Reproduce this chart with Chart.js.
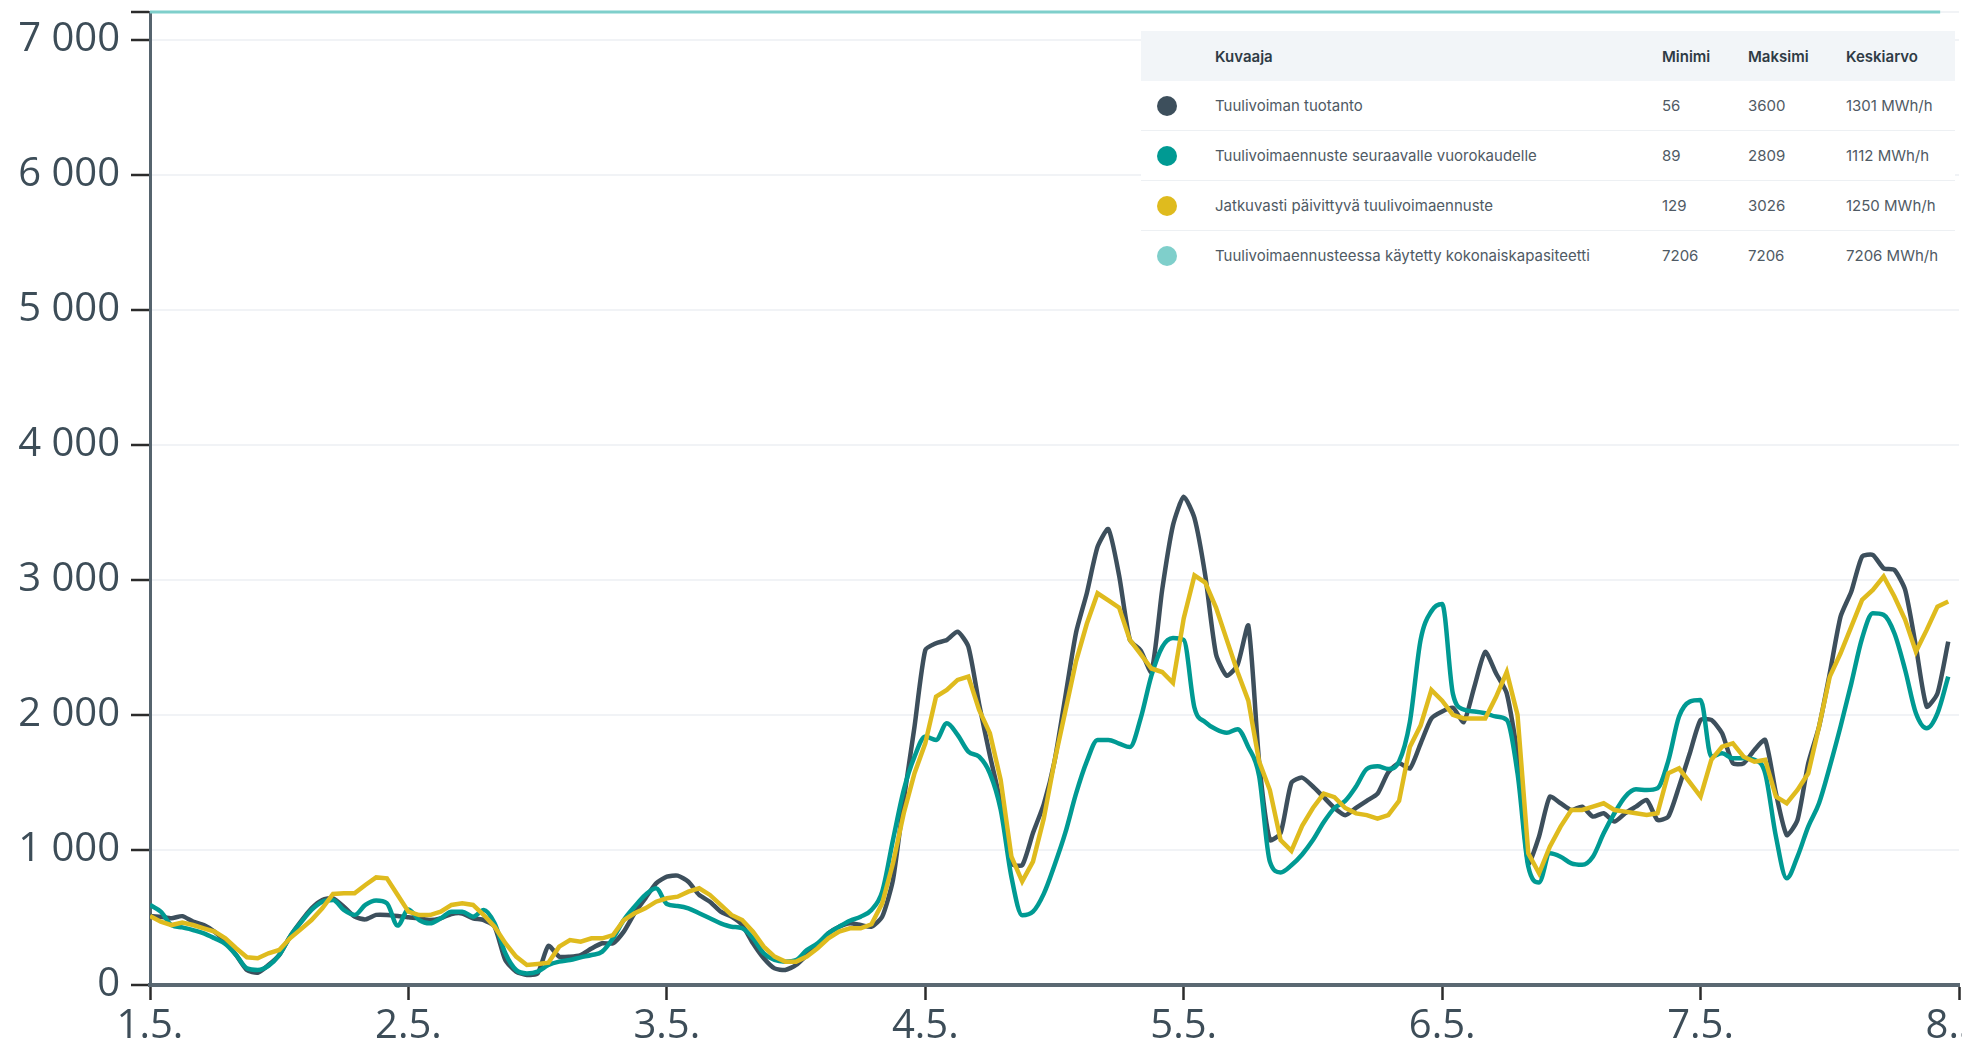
<!DOCTYPE html>
<html lang="fi">
<head>
<meta charset="utf-8">
<title>Tuulivoima</title>
<script src="https://cdn.jsdelivr.net/npm/chart.js@4.4.1/dist/chart.umd.min.js"></script>
<style>
  html, body { margin: 0; padding: 0; width: 1962px; height: 1040px; overflow: hidden; background: #fff; }
  /* canvas is a bit bigger than the window so the last x label gets cut like in the original */
  #wrap { position: absolute; left: 0; top: -40px; width: 2000px; height: 1120px; }
  #stats {
    position: absolute; left: 1141px; top: 31px; width: 814px;
    border-collapse: collapse; table-layout: fixed; background: #fff;
    font-family: Inter, "Noto Sans", sans-serif; font-size: 15px; color: #4f5a64;
  }
  #stats th { height: 50px; background: #f2f5f8; color: #2f3b45; font-weight: 600; text-align: left; padding: 0; }
  #stats td { height: 49px; padding: 0; text-align: left; border-bottom: 1px solid #edf0f3; }
  #stats tr:last-child td { border-bottom: none; }
  .dot { display: inline-block; width: 20px; height: 20px; border-radius: 50%; margin-left: 16px; vertical-align: middle; }
</style>
</head>
<body>
<div id="wrap"><canvas id="windChart"></canvas></div>
<table id="stats">
  <colgroup><col style="width:74px"><col style="width:447px"><col style="width:86px"><col style="width:98px"><col style="width:109px"></colgroup>
  <thead><tr><th></th><th>Kuvaaja</th><th>Minimi</th><th>Maksimi</th><th>Keskiarvo</th></tr></thead>
  <tbody id="statsBody"></tbody>
</table>
<script>
// x axis: hours from 1.5. 00:00, one label per day
const dayTicks = [0, 24, 48, 72, 96, 120, 144, 168];
const dayLabels = ['1.5.', '2.5.', '3.5.', '4.5.', '5.5.', '6.5.', '7.5.', '8.5.'];

const yTicks = [0, 1000, 2000, 3000, 4000, 5000, 6000, 7000, 7206];
const yTickLabels = ['0', '1 000', '2 000', '3 000', '4 000', '5 000', '6 000', '7 000', ''];

// hourly values, MWh/h
const production = [
    511, 506, 494, 510, 469, 444, 395, 321, 222, 111, 91, 148,
    222, 358, 469, 568, 630, 642, 580, 506, 486, 519, 519, 511,
    501, 494, 481, 494, 526, 530, 494, 481, 432, 185, 99, 74,
    86, 290, 210, 210, 222, 270, 309, 309, 395, 531, 642, 753,
    802, 810, 765, 667, 617, 543, 506, 444, 309, 198, 123, 111,
    148, 222, 296, 383, 432, 457, 444, 432, 506, 778, 1370, 1913,
    2480, 2531, 2555, 2617, 2506, 2080, 1700, 1350, 900, 887, 1126, 1338,
    1656, 2132, 2609, 2901, 3245, 3377, 3033, 2556, 2477, 2318, 2927, 3404,
    3616, 3457, 3033, 2450, 2291, 2371, 2662, 1656, 1073, 1126, 1497, 1536,
    1470, 1391, 1311, 1258, 1311, 1364, 1417, 1576, 1642, 1603, 1788, 1974,
    2026, 2053, 1947, 2212, 2467, 2309, 2160, 1700, 900, 1100, 1395, 1346,
    1296, 1321, 1247, 1272, 1210, 1272, 1321, 1370, 1222, 1247, 1469, 1716,
    1963, 1963, 1864, 1642, 1642, 1741, 1815, 1420, 1111, 1222, 1642, 1913,
    2309, 2728, 2914, 3173, 3185, 3086, 3074, 2926, 2506, 2062, 2160, 2543
];
const dayAhead = [
    593, 543, 444, 427, 407, 383, 346, 304, 222, 123, 111, 141,
    222, 358, 462, 556, 617, 630, 556, 519, 593, 625, 605, 440,
    560, 481, 457, 494, 543, 543, 506, 556, 457, 235, 111, 86,
    99, 148, 173, 185, 205, 222, 247, 346, 481, 580, 667, 716,
    600, 585, 568, 531, 494, 457, 432, 420, 346, 235, 185, 173,
    185, 259, 309, 383, 432, 476, 506, 556, 691, 1074, 1444, 1691,
    1840, 1815, 1938, 1852, 1728, 1691, 1568, 1300, 800, 517, 543, 675,
    887, 1126, 1417, 1656, 1815, 1815, 1788, 1762, 1974, 2291, 2503, 2570,
    2556, 2053, 1947, 1894, 1868, 1894, 1762, 1550, 914, 834, 887, 967,
    1073, 1205, 1311, 1364, 1470, 1600, 1620, 1600, 1656, 1947, 2556, 2768,
    2821, 2156, 2040, 2026, 2013, 1988, 1963, 1568, 877, 760, 975, 950,
    900, 890, 950, 1123, 1272, 1395, 1449, 1444, 1457, 1660, 1988, 2099,
    2111, 1691, 1716, 1679, 1679, 1667, 1568, 1099, 790, 951, 1173, 1346,
    1617, 1914, 2234, 2568, 2753, 2741, 2605, 2333, 2012, 1901, 2012, 2284
];
const updated = [
    511, 469, 444, 462, 444, 420, 395, 346, 272, 205, 198, 235,
    259, 346, 412, 481, 568, 674, 679, 679, 741, 797, 790, 667,
    543, 518, 518, 543, 593, 605, 593, 518, 432, 309, 210, 148,
    156, 165, 284, 333, 321, 346, 346, 370, 481, 531, 568, 617,
    642, 654, 691, 716, 667, 593, 519, 481, 395, 284, 210, 173,
    173, 210, 272, 346, 395, 420, 420, 450, 605, 901, 1272, 1568,
    1790, 2136, 2185, 2259, 2284, 2037, 1865, 1519, 950, 768, 914, 1232,
    1656, 2026, 2397, 2675, 2901, 2848, 2795, 2556, 2450, 2344, 2318, 2238,
    2715, 3033, 2980, 2795, 2556, 2318, 2106, 1656, 1444, 1073, 993, 1179,
    1311, 1417, 1391, 1311, 1271, 1258, 1232, 1258, 1364, 1762, 1921, 2185,
    2106, 2000, 1974, 1974, 1974, 2132, 2318, 2000, 975, 827, 1025, 1173,
    1296, 1296, 1321, 1346, 1296, 1284, 1272, 1259, 1272, 1568, 1605, 1500,
    1395, 1667, 1765, 1790, 1691, 1654, 1667, 1395, 1346, 1444, 1568, 1913,
    2284, 2457, 2654, 2852, 2926, 3025, 2877, 2704, 2469, 2630, 2802, 2840
];
// capacity used in forecast, flat line
const capacityHours = [0, 166.25];
const capacityValues = [7206, 7206];

// table next to the chart
const seriesNames = [
    'Tuulivoiman tuotanto',
    'Tuulivoimaennuste seuraavalle vuorokaudelle',
    'Jatkuvasti päivittyvä tuulivoimaennuste',
    'Tuulivoimaennusteessa käytetty kokonaiskapasiteetti'
];
const minValues = [56, 89, 129, 7206];
const maxValues = [3600, 2809, 3026, 7206];
const avgValues = [1301, 1112, 1250, 7206];
const seriesColors = ['#3d4f5c', '#009a93', '#dfbb1e', '#7fcfcb'];

document.getElementById('statsBody').innerHTML = seriesNames.map((name, i) => `
    <tr>
        <td><span class="dot" style="background:${seriesColors[i]}"></span></td>
        <td>${name}</td>
        <td>${minValues[i]}</td>
        <td>${maxValues[i]}</td>
        <td>${avgValues[i]} MWh/h</td>
    </tr>`).join('');

function hourly(values) {
    return values.map((v, i) => ({ x: i, y: v }));
}

const lineBase = { pointRadius: 0, borderWidth: 4.5, fill: false, tension: 0.2 };

new Chart(document.getElementById('windChart'), {
    type: 'line',
    data: {
        datasets: [
            { ...lineBase, label: seriesNames[2], data: hourly(updated), borderColor: seriesColors[2], tension: 0 },
            { ...lineBase, label: seriesNames[1], data: hourly(dayAhead), borderColor: seriesColors[1], cubicInterpolationMode: 'monotone' },
            { ...lineBase, label: seriesNames[0], data: hourly(production), borderColor: seriesColors[0] },
            { ...lineBase, label: seriesNames[3], data: capacityHours.map((h, i) => ({ x: h, y: capacityValues[i] })),
              borderColor: seriesColors[3], borderWidth: 3, clip: false }
        ]
    },
    options: {
        responsive: true,
        maintainAspectRatio: false,
        animation: false,
        layout: { padding: { top: 52, right: 41, left: 0, bottom: 0 } },
        plugins: { legend: { display: false }, tooltip: { enabled: false } },
        scales: {
            x: {
                type: 'linear', min: 0, max: 168,
                afterBuildTicks: s => { s.ticks = dayTicks.map(v => ({ value: v })); },
                afterFit: s => { s.height = 95; },
                ticks: {
                    autoSkip: false, maxRotation: 0, padding: 3,
                    color: '#3d4d58', font: { family: "'Open Sans', sans-serif", size: 40 },
                    callback: (v, i) => dayLabels[i]
                },
                grid: { drawOnChartArea: false, tickLength: 15, tickColor: '#2b2b2b', tickWidth: 2.5 },
                border: { color: '#5a6872', width: 4 }
            },
            y: {
                min: 0, max: 7206,
                afterBuildTicks: s => { s.ticks = yTicks.map(v => ({ value: v })); },
                afterFit: s => { s.width = 150; },
                ticks: {
                    autoSkip: false, padding: 11,
                    color: '#3d4d58', font: { family: "'Open Sans', sans-serif", size: 40 },
                    callback: (v, i) => yTickLabels[i]
                },
                grid: { color: '#f1f3f6', lineWidth: 2, tickLength: 19, tickColor: '#2b2b2b', tickWidth: 2.5 },
                border: { color: '#56646e', width: 3 }
            }
        }
    }
});
</script>
</body>
</html>
